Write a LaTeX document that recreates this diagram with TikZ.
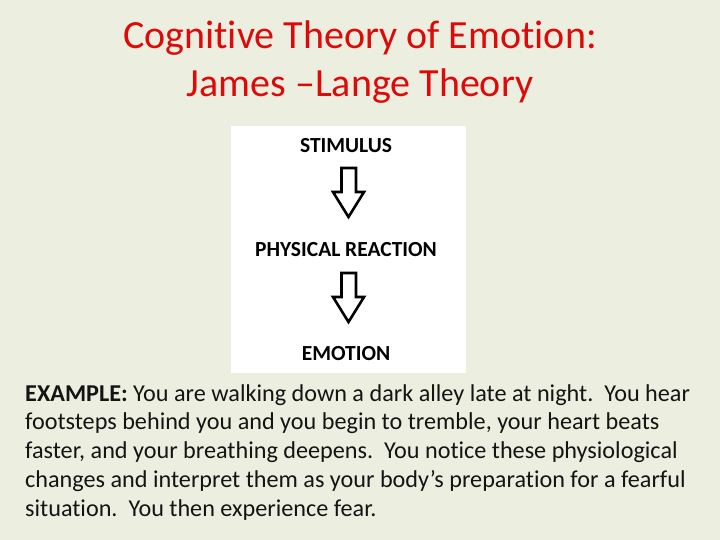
\documentclass[tikz,border=0pt]{standalone}
\usepackage{fontspec}
\setmainfont[RawFeature=-liga]{Carlito}
\definecolor{bg}{RGB}{236,239,223}
\definecolor{titlered}{RGB}{222,10,10}
\definecolor{bodytext}{RGB}{20,20,20}
\begin{document}
\begin{tikzpicture}[x=1pt,y=-1pt,
  title/.style={text=titlered,font=\fontsize{40}{48}\selectfont,align=center},
  stagelabel/.style={font=\bfseries\fontsize{21.5}{22}\selectfont,text=black,inner sep=0pt},
  blockarrow/.style={draw=black,line width=2.6pt,fill=white,line join=miter},
  bodynode/.style={text=bodytext,font=\fontsize{24.2}{28.8}\selectfont,align=left,anchor=north west,inner sep=0pt}]
\fill[bg] (0,0) rectangle (720,540);
\useasboundingbox (0,0) rectangle (720,540);
\node[title] (t) at (360,62) {Cognitive Theory of Emotion:\\James –Lange Theory};
\fill[white] (231,126) rectangle (466,373);
\node[stagelabel] (s) at (346,145.5) {STIMULUS};
\node[stagelabel] (p) at (346,249.5) {PHYSICAL REACTION};
\node[stagelabel] (e) at (346,353.5) {EMOTION};
% block arrows
\draw[blockarrow] (341.5,168) -- (356,168) -- (356,192) -- (364,192) -- (348.5,217) -- (333,192) -- (341.5,192) -- cycle;
\draw[blockarrow] (341.5,273) -- (356,273) -- (356,297) -- (364,297) -- (348.5,322) -- (333,297) -- (341.5,297) -- cycle;
\node[bodynode] (b) at (25,384) {\textbf{EXAMPLE:} You are walking down a dark alley late at night.\ \ You hear\\
footsteps behind you and you begin to tremble, your heart beats\\
faster, and your breathing deepens.\ \ You notice these physiological\\
changes and interpret them as your body’s preparation for a fearful\\
situation.\ \ You then experience fear.};
\end{tikzpicture}
\end{document}
